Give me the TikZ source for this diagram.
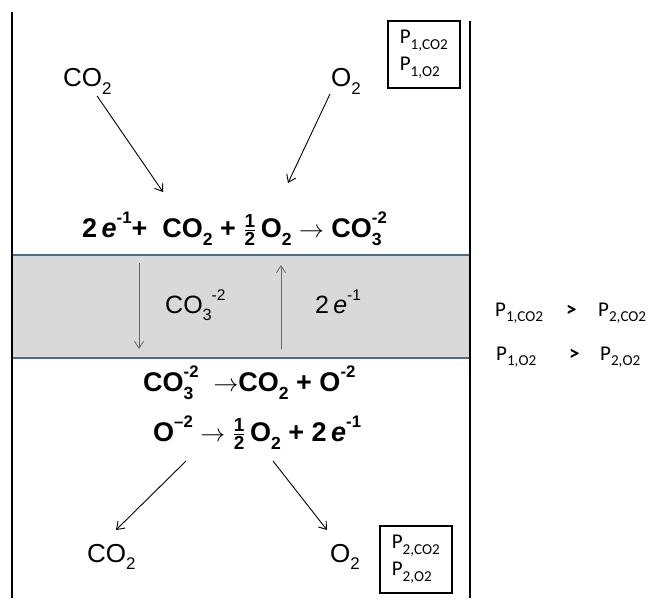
\documentclass[tikz,border=0pt]{standalone}
\usepackage{fontspec}
\usepackage{amsmath}
\usepackage{graphicx}
\setmainfont{Liberation Sans}
\newfontfamily\calib{Carlito}
\usetikzlibrary{arrows.meta}

% chemical sub- and superscripts
\newcommand\lo[1]{\raisebox{-0.3em}{\scalebox{0.65}{#1}}}
\newcommand\hi[1]{\raisebox{0.5em}{\scalebox{0.62}{#1}}}
\newcommand\lohi[2]{\rlap{\lo{#1}}\hi{#2}}
\newcommand\half{$\frac{\text{1}}{\text{2}}$}
% partial pressure labels
\newcommand\pp[2]{P\raisebox{-0.28em}{\scalebox{0.72}{#1,#2}}}

\definecolor{bandfill}{HTML}{D9D9D9}
\definecolor{bandedge}{HTML}{4F6A8A}

\tikzset{
  wall/.style={line width=2pt},
  flow/.style={line width=0.9pt, -{Straight Barb[length=7pt,width=10pt]}},
  carrier/.style={line width=0.8pt, draw=black!60, -{Straight Barb[length=7pt,width=9pt]}},
  species/.style={font=\fontsize{26}{30}\selectfont, inner sep=1pt, anchor=base west},
  inband/.style={font=\fontsize{25}{30}\selectfont, inner sep=0pt, anchor=base west},
  reaction/.style={font=\fontsize{27}{30}\selectfont\bfseries, inner sep=0pt, anchor=base west},
  pbox/.style={draw, line width=1.6pt, font=\calib\fontsize{21}{27}\selectfont,
    align=left, anchor=north west, minimum width=72pt, minimum height=67pt, inner sep=0pt},
  plabel/.style={font=\calib\fontsize{21}{24}\selectfont, inner sep=0pt, anchor=base west},
  relsign/.style={plabel, font=\calib\fontsize{21}{24}\selectfont\bfseries},
}

\begin{document}
\begin{tikzpicture}[x=1pt,y=-1pt]
\useasboundingbox (0,0) rectangle (648,602);

% membrane band
\fill[bandfill] (12,255) rectangle (470,358);
\draw[bandedge, line width=1.5pt] (12,255) -- (470,255);
\draw[bandedge, line width=1.5pt] (12,358) -- (470,358);

% cell walls
\draw[wall] (12,12) -- (12,598);
\draw[wall] (470,21) -- (470,598);

% feed side
\node[species] (co2in) at (62,87) {CO\lo{2}};
\node[species] (o2in) at (330,87) {O\lo{2}};
\node[pbox] (p1box) at (387,20) {\pp{1}{CO2}\\\pp{1}{O2}};

\coordinate (co2end) at (163,192);
\coordinate (o2end) at (288,183);
\draw[flow] (co2in) -- (co2end);
\draw[flow] ([yshift=2pt]o2in.south west) -- (o2end);

\node[reaction] (cathode) at (82,237)
  {2\,\textit{e}\hi{-1}+ \ CO\lo{2} + \half\,O\lo{2} $\rightarrow$\ CO\lohi{3}{-2}};

% transport across the membrane
\coordinate (dtop) at (139,263);
\coordinate (dbot) at (139,349);
\coordinate (utop) at (281,265);
\coordinate (ubot) at (281,349);
\draw[carrier] (dtop) -- (dbot);
\draw[carrier] (ubot) -- (utop);
\node[inband] (ion) at (165,313) {CO\lo{3}\hi{-2}};
\node[inband] (elec) at (315,313) {2\,\textit{e}\hi{-1}};

% permeate side
\node[reaction] (anode1) at (143,391)
  {CO\lohi{3}{-2} \ $\rightarrow$CO\lo{2} + O\hi{-2}};
\node[reaction] (anode2) at (153,441)
  {O\hi{--2} $\rightarrow$ \half\,O\lo{2} + 2\,\textit{e}\hi{-1}};

\coordinate (splitl) at (186,461);
\coordinate (splitr) at (273,461);
\coordinate (co2outtip) at (116,530);
\coordinate (o2outtip) at (327,530);
\draw[flow] (splitl) -- (co2outtip);
\draw[flow] (splitr) -- (o2outtip);

\node[species] (co2out) at (86,562) {CO\lo{2}};
\node[species] (o2out) at (329,562) {O\lo{2}};
\node[pbox] (p2box) at (379,525) {\pp{2}{CO2}\\\pp{2}{O2}};

% driving force
\node[plabel] (pc1) at (495,316) {\pp{1}{CO2}};
\node[relsign] (gtc) at (566,316) {>};
\node[plabel] (pc2) at (598,316) {\pp{2}{CO2}};
\node[plabel] (po1) at (496,360) {\pp{1}{O2}};
\node[relsign] (gto) at (569,360) {>};
\node[plabel] (po2) at (600,360) {\pp{2}{O2}};
\end{tikzpicture}
\end{document}
